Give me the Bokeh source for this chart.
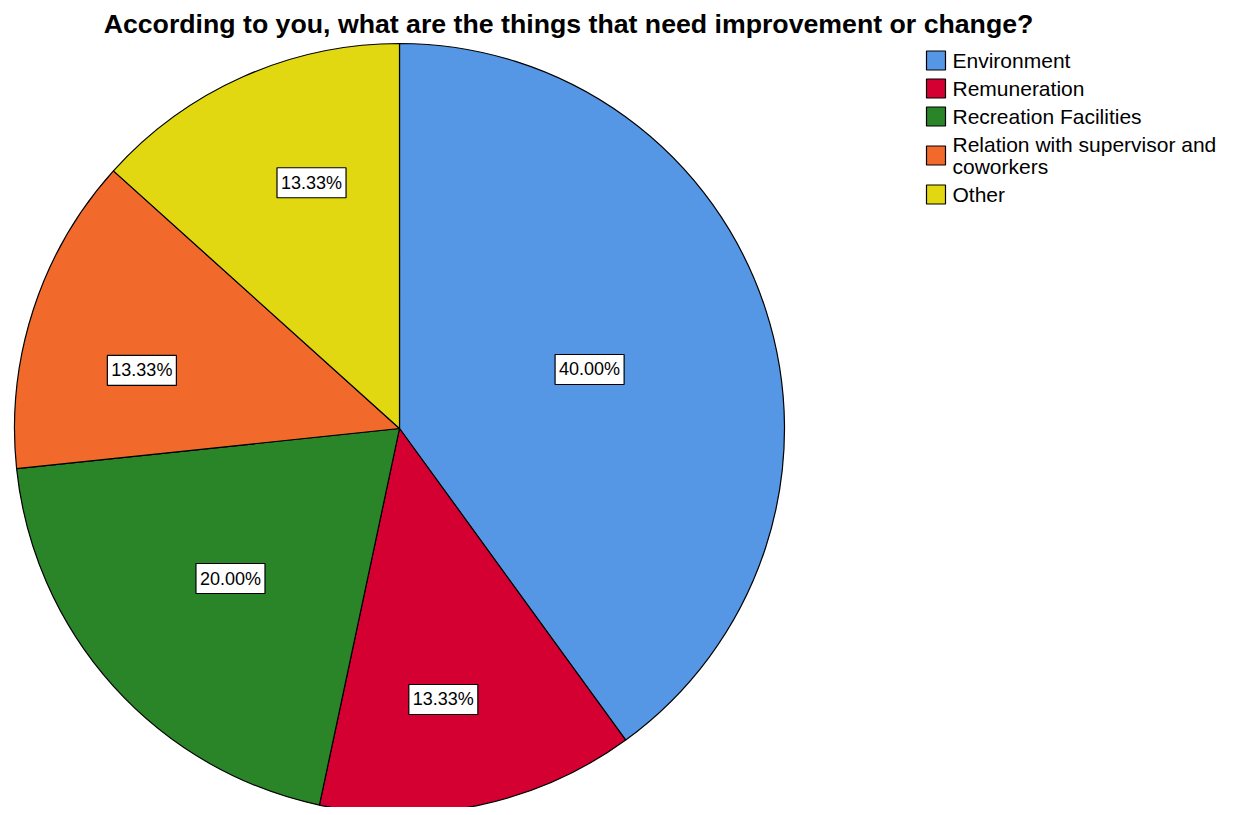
import math
import textwrap
from bokeh.plotting import figure
from bokeh.models import Range1d, ColumnDataSource
from bokeh.core.properties import value
from bokeh.embed import file_html
from bokeh.resources import INLINE

# ---- data ----
title = "According to you, what are the things that need improvement or change?"
categories = ["Environment", "Remuneration", "Recreation Facilities",
              "Relation with supervisor and coworkers", "Other"]
percentages = [40.00, 13.33, 20.00, 13.33, 13.33]
colors = ["#5596E5", "#D50032", "#2A8528", "#F26A2B", "#E2D811"]
# label placement style: radial fraction and angular offset (degrees)
label_radius_frac = [0.517, 0.713, 0.587, 0.686, 0.678]
label_angle_off = [-0.75, -2.8, -0.4, 5.3, -4.3]

# ---- layout (pixel-like data units, y up) ----
W, H = 1227, 807
def px(x):
    return x
def py(y):
    return H - y

cx, cy, R = px(399), py(428), 385

p = figure(width=W, height=H, output_backend="svg", toolbar_location=None,
           x_range=Range1d(0, W), y_range=Range1d(0, H),
           min_border=0, outline_line_color=None)
p.axis.visible = False
p.grid.visible = False
p.background_fill_color = "white"
p.border_fill_color = "white"

total = sum(percentages)
starts, ends, lx, ly, labels = [], [], [], [], []
cum = 0.0
for v, f, off in zip(percentages, label_radius_frac, label_angle_off):
    a0 = math.pi / 2 - 2 * math.pi * cum / total
    cum += v
    a1 = math.pi / 2 - 2 * math.pi * cum / total
    starts.append(a0)
    ends.append(a1)
    mid = (a0 + a1) / 2 + math.radians(off)
    lx.append(cx + f * R * math.cos(mid))
    ly.append(cy + f * R * math.sin(mid))
    labels.append(f"{v:.2f}%")

src = ColumnDataSource(dict(start=starts, end=ends, color=colors))
p.wedge(x=cx, y=cy, radius=R, start_angle="start", end_angle="end",
        direction="clock", fill_color="color", line_color="black",
        line_width=1.2, source=src)

lsrc = ColumnDataSource(dict(x=lx, y=ly, text=labels))
p.text(x="x", y="y", text="text", source=lsrc, text_align="center",
       text_baseline="middle", text_font=value("Liberation Sans"),
       text_font_size="18px", text_color="black",
       background_fill_color="white", border_line_color="black",
       border_line_width=1.2,
       padding=dict(left=4, right=4, top=5, bottom=5))

# title
p.text(x=[px(568)], y=[py(23)], text=[title], text_align="center",
       text_baseline="middle", text_font=value("Liberation Sans"),
       text_font_style="bold", text_font_size="26.7px", text_color="black")

# legend
sx, sy = [], []
tx, ty, tt = [], [], []
y0 = 60
for cat, col in zip(categories, colors):
    lines = textwrap.wrap(cat, 28)
    for j, line in enumerate(lines):
        tx.append(px(952))
        ty.append(py(y0 + 22 * j))
        tt.append(line)
    sx.append(px(935.5))
    sy.append(py(y0 + 11 * (len(lines) - 1)))
    y0 += 28 + 22 * (len(lines) - 1)

p.rect(x=sx, y=sy, width=19, height=19, fill_color=colors,
       line_color="black", line_width=1.2)
p.text(x=tx, y=ty, text=tt, text_align="left", text_baseline="middle",
       text_font=value("Liberation Sans"), text_font_size="21px",
       text_color="black")

open("out.html", "w").write(file_html(p, INLINE))
